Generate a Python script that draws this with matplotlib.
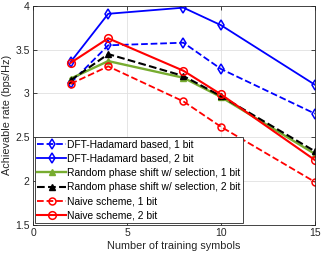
import numpy as np
import matplotlib
matplotlib.use('Agg')
import matplotlib.pyplot as plt

plt.rcParams['font.family'] = ['Liberation Sans', 'DejaVu Sans']

# training symbols
n_train = [2, 4, 8, 10, 15]

dft_1bit = [3.12, 3.55, 3.58, 3.28, 2.77]
dft_2bit = [3.36, 3.91, 3.98, 3.78, 3.10]
rand_1bit = [3.17, 3.37, 3.18, 2.96, 2.31]
rand_2bit = [3.15, 3.45, 3.20, 2.97, 2.34]
naive_1bit = [3.11, 3.31, 2.91, 2.62, 1.99]
naive_2bit = [3.35, 3.63, 3.26, 2.99, 2.24]

labels = [
    'DFT-Hadamard based, 1 bit',
    'DFT-Hadamard based, 2 bit',
    'Random phase shift w/ selection, 1 bit',
    'Random phase shift w/ selection, 2 bit',
    'Naive scheme, 1 bit',
    'Naive scheme, 2 bit',
]

green = '#77ac30'

fig = plt.figure(figsize=(3.24, 2.57), dpi=100)
ax = fig.add_axes([0.102, 0.125, 0.870, 0.852])

lw = 1.3
ax.plot(n_train, dft_1bit, '--', color='blue', lw=lw, marker='d', ms=5,
        mfc='none', mew=1.1, label=labels[0])
ax.plot(n_train, dft_2bit, '-', color='blue', lw=lw, marker='d', ms=5,
        mfc='none', mew=1.1, label=labels[1])
ax.plot(n_train, rand_1bit, '-', color=green, lw=lw + 0.4, marker='^', ms=5,
        mfc=green, label=labels[2])
ax.plot(n_train, rand_2bit, '--', color='black', lw=lw + 0.2, marker='^', ms=5,
        mfc='black', label=labels[3])
ax.plot(n_train, naive_1bit, '--', color='red', lw=lw, marker='o', ms=5,
        mfc='none', mew=1.1, label=labels[4])
ax.plot(n_train, naive_2bit, '-', color='red', lw=lw + 0.2, marker='o', ms=5.5,
        mfc='none', mew=1.1, label=labels[5])

ax.set_xlim(0, 15)
ax.set_ylim(1.5, 4)
ax.set_xticks([0, 5, 10, 15])
ax.set_yticks([1.5, 2, 2.5, 3, 3.5, 4])
ax.set_yticklabels(['1.5', '2', '2.5', '3', '3.5', '4'])
ax.tick_params(direction='in', labelsize=7.5, length=3, width=0.6,
               top=True, right=True, colors='#262626', pad=2.5)
ax.grid(True, color='#e0e0e0', lw=0.6)
ax.set_axisbelow(True)
for s in ax.spines.values():
    s.set_linewidth(0.6)
    s.set_color('#262626')

ax.set_xlabel('Number of training symbols', fontsize=7.8, labelpad=2, color='#262626')
ax.set_ylabel('Achievable rate (bps/Hz)', fontsize=7.8, labelpad=2, color='#262626')

leg = ax.legend(loc='lower left', fontsize=7.4, fancybox=False, framealpha=1,
                edgecolor='#262626', borderaxespad=0.15, handlelength=2.8,
                handletextpad=0.1, labelspacing=0.42, borderpad=0.25)
leg.get_frame().set_linewidth(0.6)

fig.savefig('out.png', dpi=100)
